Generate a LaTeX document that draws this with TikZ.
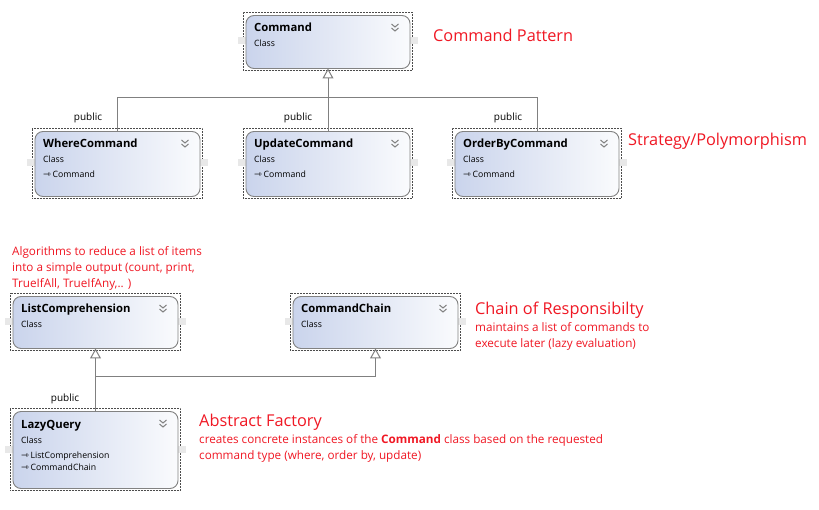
\documentclass[tikz,border=0pt]{standalone}
\usepackage{fontspec}
\setmainfont{Open Sans}
\newfontfamily\arrfont{DejaVu Sans}
\usetikzlibrary{arrows.meta,calc}
\definecolor{redtxt}{RGB}{240,24,36}
\definecolor{boxleft}{RGB}{202,212,236}
\definecolor{boxright}{RGB}{250,251,253}
\definecolor{boxline}{RGB}{130,130,130}
\definecolor{conn}{RGB}{128,128,128}
\definecolor{tabgray}{RGB}{232,232,232}
\tikzset{
 frame/.style={draw=black!70, line width=0.45pt, dash pattern=on 0.45pt off 1.05pt, inner sep=0, outer sep=0},
 clsbox/.style={draw=boxline, line width=0.9pt, rounded corners=8pt, left color=boxleft, right color=boxright, inner sep=0, outer sep=0},
 tabbox/.style={fill=tabgray, inner sep=0, minimum width=8pt, minimum height=7pt},
 ttl/.style={font=\fontsize{11.3}{13}\selectfont\bfseries, anchor=base west, inner sep=0},
 sub/.style={font=\fontsize{8.7}{10}\selectfont, anchor=base west, inner sep=0},
 pub/.style={font=\fontsize{10}{11}\selectfont, inner sep=0, anchor=base},
 note/.style={text=redtxt, font=\fontsize{11.7}{16}\selectfont, align=left, anchor=west, inner sep=0},
 head/.style={text=redtxt, font=\fontsize{16.3}{19}\selectfont, anchor=west, inner sep=0},
 gen/.style={draw=conn, line width=1pt, -{Triangle[open, length=10pt, width=11pt, fill=white]}},
 lin/.style={draw=conn, line width=1pt},
 chev/.style={draw=gray, line width=1pt},
}
\newcommand\umlbox[6]{%
 \pgfmathsetmacro\bx{#2+#4/2}\pgfmathsetmacro\by{#3+#5/2}%
 \pgfmathsetmacro\br{#2+#4}%
 \node[frame, minimum width=#4pt, minimum height=#5pt] (#1f) at (\bx,\by) {};
 \node[tabbox] (#1tl) at (#2-1,\by) {};
 \node[tabbox] (#1tr) at (\br+1.5,\by) {};
 \node[clsbox, minimum width=#4pt-5pt, minimum height=#5pt-5pt] (#1) at (\bx+0.5,\by+1) {};
 \draw[chev] (\br-20.5,#3+12) -- (\br-17,#3+15) -- (\br-13.5,#3+12) (\br-20.5,#3+16) -- (\br-17,#3+19) -- (\br-13.5,#3+16);
 \node[ttl] (#1t) at (#2+11,#3+20) {#6};
 \node[sub] (#1c) at (#2+11,#3+35) {Class};
}
\newcommand\inh{{\arrfont\fontsize{9.5}{10}\selectfont\char"21FE}\,}
\begin{document}
\begin{tikzpicture}[x=1pt,y=-1pt]
\useasboundingbox (0,0) rectangle (819,510);
\fill[white] (0,0) rectangle (819,510);
\umlbox{cmd}{243}{12}{169}{58}{Command}
\umlbox{where}{32}{128}{170}{70}{WhereCommand}
\node[sub] (wherei) at (43,178) {\inh Command};
\umlbox{update}{243}{128}{169}{70}{UpdateCommand}
\node[sub] (updatei) at (254,178) {\inh Command};
\umlbox{order}{452}{128}{169}{70}{OrderByCommand}
\node[sub] (orderi) at (463,178) {\inh Command};
\umlbox{lc}{10}{293}{170}{57}{ListComprehension}
\umlbox{cc}{290}{293}{170}{57}{CommandChain}
\umlbox{lazy}{10}{408}{170}{82}{LazyQuery}
\node[sub] (lazyi1) at (21,458) {\inh ListComprehension};
\node[sub] (lazyi2) at (21,470) {\inh CommandChain};
% connectors
\path (cmd.south) ++(0,29) coordinate (j1);
\draw[lin] (where.north) |- (j1) -| (order.north);
\draw[gen] (update.north) -- (cmd.south);
\path (lc.south) ++(0,28) coordinate (j2);
\draw[gen] (lazy.north) -- (lc.south);
\draw[gen] (j2) -| (cc.south);
% public labels
\node[pub] (pwhere) at (88,121) {public};
\node[pub] (pupdate) at (298,121) {public};
\node[pub] (porder) at (508,121) {public};
\node[pub] (plazy) at (65,401) {public};
% notes
\node[head] (hcmd) at (433,35) {Command Pattern};
\node[head] (hstr) at (628,141) {Strategy/Polymorphism};
\node[note] (nalg) at (12,268) {Algorithms to reduce a list of items\\into a simple output (count, print,\\TrueIfAll, TrueIfAny,.. )};
\node[head] (hcor) at (475,310) {Chain of Responsibilty};
\node[note] (ncor) at (475,336) {maintains a list of commands to\\execute later (lazy evaluation)};
\node[head] (haf) at (199,422) {Abstract Factory};
\node[note] (naf) at (199,448) {creates concrete instances of the \textbf{Command} class based on the requested\\command type (where, order by, update)};
\end{tikzpicture}
\end{document}
